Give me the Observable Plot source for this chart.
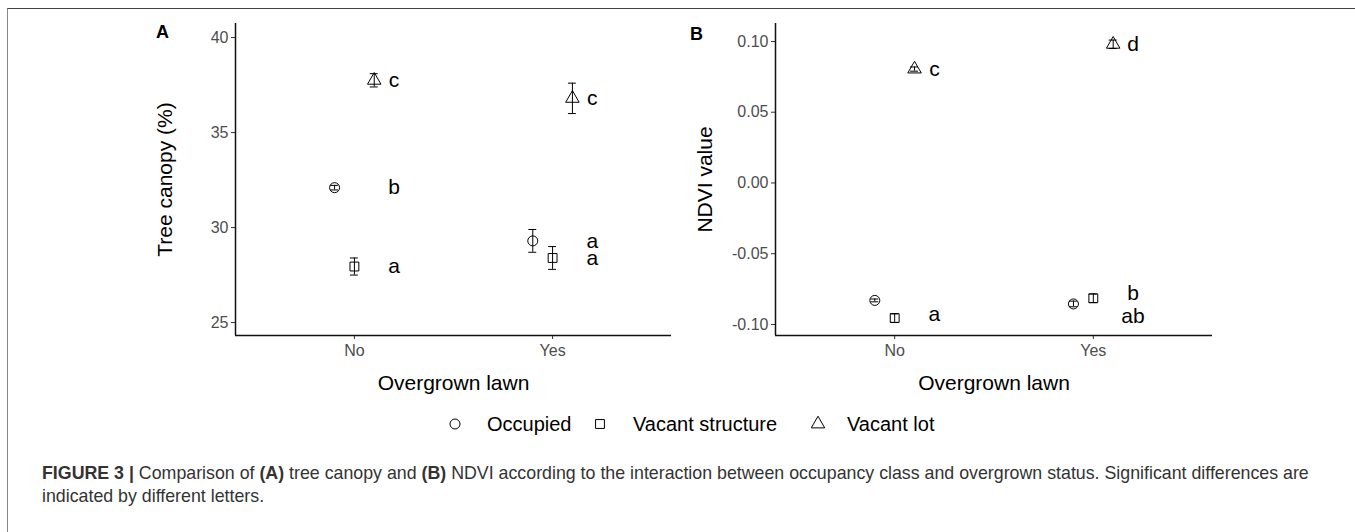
<!DOCTYPE html>
<html><head><meta charset="utf-8">
<script src="https://cdn.jsdelivr.net/npm/d3@7"></script>
<script src="https://cdn.jsdelivr.net/npm/@observablehq/plot@0.6"></script>
<style>
body{margin:0;background:#fff;font-family:"Liberation Sans",Arial,sans-serif;}
#fig{position:relative;width:1355px;height:532px;overflow:hidden;background:#fff;}
#box{position:absolute;left:7px;top:8px;width:1400px;height:600px;border-top:1px solid #444;border-left:1px solid #888;}
.panel{position:absolute;top:0;}
.plab{position:absolute;font-weight:bold;font-size:18px;color:#000;}
.leg{position:absolute;font-size:20px;color:#000;line-height:24px;}
.legsym{position:absolute;}
#caption{position:absolute;left:42px;top:462px;font-size:17.8px;line-height:23px;color:#333;white-space:nowrap;}
</style></head>
<body>
<div id="fig">
<div id="box"></div>
<div id="pa" class="panel" style="left:0px"></div>
<div id="pb" class="panel" style="left:680px"></div>
<div class="plab" style="left:156px;top:22px">A</div>
<div class="plab" style="left:690px;top:24px">B</div>
<div id="legend"></div>
<div id="caption"><b>FIGURE 3 |</b> Comparison of <b>(A)</b> tree canopy and <b>(B)</b> NDVI according to the interaction between occupancy class and overgrown status. Significant differences are<br>indicated by different letters.</div>
</div>
<script>
// ---- data ----
const lawn = ["No", "Yes"];
const occupancy = ["Occupied", "Vacant structure", "Vacant lot"];
// order: No × occupancy, then Yes × occupancy
const canopyMean = [32.1, 27.95, 37.75, 29.3, 28.4, 36.8];
const canopyErr  = [0.12, 0.45, 0.35, 0.6, 0.6, 0.8];
const canopyLetterLawn = ["No", "No", "No", "Yes", "Yes", "Yes"];
const canopyLetters    = ["b", "a", "c", "a", "a", "c"];
const canopyLetterY    = [32.1, 27.95, 37.75, 29.3, 28.4, 36.8];

const ndviMean = [-0.083, -0.0955, 0.0805, -0.0855, -0.0815, 0.098];
const ndviErr  = [0.001, 0.003, 0.0015, 0.002, 0.003, 0.003];
const ndviLetterLawn = ["No", "No", "Yes", "Yes", "Yes"];
const ndviLetters    = ["a", "c", "b", "ab", "d"];
const ndviLetterY    = [-0.093, 0.0805, -0.0777, -0.094, 0.098];

const canopyTicks = [25, 30, 35, 40];
const ndviTicks = [-0.10, -0.05, 0.00, 0.05, 0.10];

// ---- build ----
const dodge = [-0.1, 0, 0.1];
const symbols = ["circle", "square", "triangle"];
const font = "'Liberation Sans', Arial, sans-serif";

function rows(means, errs) {
  return means.map((m, i) => {
    const g = Math.floor(i / 3), k = i % 3;
    return {lawn: lawn[g], occ: occupancy[k], x: 1 + g + dodge[k], mean: m, err: errs[i]};
  });
}
function letterRows(lw, txt, ys) {
  return txt.map((t, i) => ({x: 1 + lawn.indexOf(lw[i]) + 0.2, y: ys[i], t}));
}

function panel({data, letters, yDomain, ticks, tickFormat, ylabel, width, marginLeft, marginRight}) {
  const cap = 0.02;
  return Plot.plot({
    width, height: 410, marginLeft, marginRight, marginTop: 23, marginBottom: 75,
    x: {domain: [0.4, 2.6]},
    y: {domain: yDomain},
    symbol: {domain: occupancy, range: symbols},
    style: {fontFamily: font, background: "transparent", overflow: "visible"},
    marks: [
      Plot.axisY({ticks, tickFormat, tickSize: 4, tickPadding: 3, fontSize: 16, fill: "#4d4d4d", stroke: "#333", label: null}),
      Plot.axisX({ticks: [1, 2], tickFormat: d => lawn[d - 1], tickSize: 4, tickPadding: 5, fontSize: 16, fill: "#4d4d4d", stroke: "#333", label: null}),
      Plot.ruleX([0.4], {stroke: "#111", strokeWidth: 1.5}),
      Plot.ruleY([yDomain[0]], {stroke: "#111", strokeWidth: 1.5}),
      Plot.ruleX(data, {x: "x", y1: d => d.mean - d.err, y2: d => d.mean + d.err, stroke: "#000", strokeWidth: 1}),
      Plot.ruleY(data, {x1: d => d.x - cap, x2: d => d.x + cap, y: d => d.mean - d.err, stroke: "#000", strokeWidth: 1}),
      Plot.ruleY(data, {x1: d => d.x - cap, x2: d => d.x + cap, y: d => d.mean + d.err, stroke: "#000", strokeWidth: 1}),
      Plot.dot(data, {x: "x", y: "mean", symbol: "occ", r: 5, stroke: "#000", fill: "none", strokeWidth: 1}),
      Plot.text(letters, {x: "x", y: "y", text: "t", fontSize: 21, fill: "#000"}),
      Plot.text([ylabel], {frameAnchor: "left", dx: -70, rotate: -90, text: d => d, fontSize: 21, fill: "#000", textAnchor: "middle", lineAnchor: "middle"}),
      Plot.text(["Overgrown lawn"], {frameAnchor: "bottom", dy: 48, text: d => d, fontSize: 21, fill: "#000", textAnchor: "middle", lineAnchor: "middle"})
    ]
  });
}

document.getElementById("pa").appendChild(panel({
  data: rows(canopyMean, canopyErr),
  letters: letterRows(canopyLetterLawn, canopyLetters, canopyLetterY),
  yDomain: [24.32, 40.74], ticks: canopyTicks, tickFormat: d => String(d),
  ylabel: "Tree canopy (%)", width: 680, marginLeft: 235, marginRight: 9
}));
document.getElementById("pb").appendChild(panel({
  data: rows(ndviMean, ndviErr),
  letters: letterRows(ndviLetterLawn, ndviLetters, ndviLetterY),
  yDomain: [-0.1078, 0.1127], ticks: ndviTicks, tickFormat: d => d.toFixed(2),
  ylabel: "NDVI value", width: 540, marginLeft: 95, marginRight: 8
}));

// legend
const leg = document.getElementById("legend");
const legX = [[455, 487], [600, 633], [818, 847]];
const legY = 424;
occupancy.forEach((name, i) => {
  const svg = d3.create("svg").attr("class", "legsym").attr("width", 16).attr("height", 16)
    .style("left", (legX[i][0] - 8) + "px").style("top", (legY - 8) + "px");
  const sym = [d3.symbolCircle, d3.symbolSquare, d3.symbolTriangle][i];
  svg.append("path").attr("d", d3.symbol(sym, Math.PI * 25)()).attr("transform", "translate(8,8)")
    .attr("fill", "none").attr("stroke", "#000");
  leg.appendChild(svg.node());
  const t = document.createElement("div");
  t.className = "leg"; t.textContent = name;
  t.style.left = legX[i][1] + "px"; t.style.top = (legY - 12) + "px";
  leg.appendChild(t);
});
</script>
</body></html>
